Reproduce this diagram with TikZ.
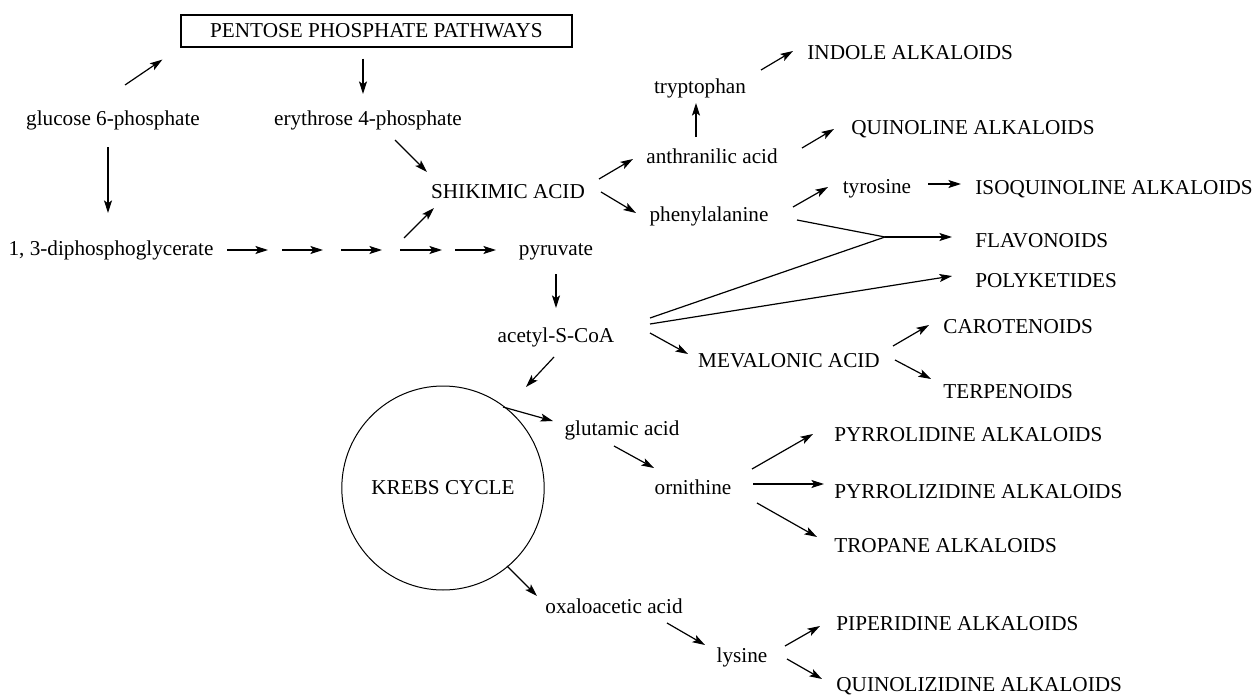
\documentclass[tikz,border=0pt]{standalone}
\usepackage{fontspec}
\setmainfont{Liberation Serif}
\usetikzlibrary{arrows.meta,shapes.geometric}

\begin{document}
\begin{tikzpicture}[x=0.5pt,y=-0.5pt,
    font=\fontsize{10.6}{12.7}\selectfont,
    every node/.style={inner sep=0pt},
    lbl/.style={anchor=mid},
    prod/.style={anchor=mid west},
    arr/.style={-{Stealth[length=6.3pt,width=4pt,inset=1.4pt]},line width=0.6pt}]
  \useasboundingbox (0,0) rectangle (1255,696);

  % sources
  \node[draw,line width=0.6pt,minimum width=195.5pt,minimum height=16pt] (ppp) at (376.5,31) {PENTOSE PHOSPHATE PATHWAYS};
  \node[lbl] (glc) at (113,121) {glucose 6-phosphate};
  \node[lbl] (ery) at (368,121) {erythrose 4-phosphate};
  \node[lbl] (dpg) at (111,251) {1, 3-diphosphoglycerate};
  \node[lbl] (shk) at (508,194) {SHIKIMIC ACID};
  \node[lbl] (pyr) at (556,251) {pyruvate};
  \node[lbl] (acc) at (556,338) {acetyl-S-CoA};
  \node[ellipse,draw,line width=0.5pt,minimum width=98pt,minimum height=102pt] (krebs) at (443,488) {KREBS CYCLE};

  % intermediates
  \node[lbl] (ant) at (712,159) {anthranilic acid};
  \node[lbl] (phe) at (709,217) {phenylalanine};
  \node[lbl] (trp) at (700,89) {tryptophan};
  \node[lbl] (tyr) at (877,189) {tyrosine};
  \node[lbl] (mev) at (789,363) {MEVALONIC ACID};
  \node[lbl] (glu) at (622,431) {glutamic acid};
  \node[lbl] (orn) at (693,490) {ornithine};
  \node[lbl] (oxa) at (614,609) {oxaloacetic acid};
  \node[lbl] (lys) at (742,658) {lysine};
  \coordinate (jn) at (885,237);

  % end products
  \node[prod] (ind) at (807,55) {INDOLE ALKALOIDS};
  \node[prod] (qui) at (851,130) {QUINOLINE ALKALOIDS};
  \node[prod] (iso) at (975,190) {ISOQUINOLINE ALKALOIDS};
  \node[prod] (fla) at (975,243) {FLAVONOIDS};
  \node[prod] (pol) at (975,283) {POLYKETIDES};
  \node[prod] (car) at (943,329) {CAROTENOIDS};
  \node[prod] (ter) at (943,394) {TERPENOIDS};
  \node[prod] (pyrd) at (834,437) {PYRROLIDINE ALKALOIDS};
  \node[prod] (pyrz) at (834,494) {PYRROLIZIDINE ALKALOIDS};
  \node[prod] (tro) at (834,548) {TROPANE ALKALOIDS};
  \node[prod] (pip) at (836,626) {PIPERIDINE ALKALOIDS};
  \node[prod] (quz) at (836,687) {QUINOLIZIDINE ALKALOIDS};

  % arrows
  \draw[arr] ([shift={(12,-36)}]glc.mid) -- ([shift={(-18,12)}]ppp.south west);
  \draw[arr] ([shift={(-13.5,11)}]ppp.south) -- ([shift={(-5,-27)}]ery.mid);
  \draw[arr] ([shift={(-5,26)}]glc.mid) -- ([shift={(-3,-38)}]dpg.mid);
  \foreach \a/\b in {116/157,171/212,230/271,289/331,344/385}
    \draw[arr] ([shift={(\a,-1)}]dpg.mid) -- ([shift={(\b,-1)}]dpg.mid);
  \draw[arr] ([shift={(-104,44)}]shk.mid) -- ([shift={(-74,14)}]shk.mid);
  \draw[arr] ([shift={(27,19)}]ery.mid) -- ([shift={(-81,-22)}]shk.mid);
  \draw[arr] ([shift={(91,-15)}]shk.mid) -- ([shift={(-79,0)}]ant.mid);
  \draw[arr] ([shift={(93,-2)}]shk.mid) -- ([shift={(-73,-4)}]phe.mid);
  \draw[arr] ([shift={(0,23)}]pyr.mid) -- ([shift={(0,-30)}]acc.mid);
  \draw[arr] ([shift={(-16,-22)}]ant.mid) -- ([shift={(-4,14)}]trp.mid);
  \draw[arr] ([shift={(61,-19)}]trp.mid) -- ([shift={(-14,-4)}]ind.mid west);
  \draw[arr] ([shift={(90,-11)}]ant.mid) -- ([shift={(-17,-1)}]qui.mid west);
  \draw[arr] ([shift={(84,-10)}]phe.mid) -- ([shift={(-49,-2)}]tyr.mid);
  \draw[arr] ([shift={(51,-5)}]tyr.mid) -- ([shift={(-14,-6)}]iso.mid west);
  \draw[line width=0.6pt] ([shift={(88,3)}]phe.mid) -- (jn);
  \draw[line width=0.6pt] ([shift={(94,-20)}]acc.mid) -- (jn);
  \draw[arr] (jn) -- ([shift={(-23,-6)}]fla.mid west);
  \draw[arr] ([shift={(94,-14)}]acc.mid) -- ([shift={(-23,-7)}]pol.mid west);
  \draw[arr] ([shift={(94,-5)}]acc.mid) -- ([shift={(-101,-9)}]mev.mid);
  \draw[arr] ([shift={(104,-17)}]mev.mid) -- ([shift={(-14,-4)}]car.mid west);
  \draw[arr] ([shift={(106,-3)}]mev.mid) -- ([shift={(-12,-15)}]ter.mid west);
  \draw[arr] ([shift={(-2,19)}]acc.mid) -- ([shift={(83,-101)}]krebs.center);
  \draw[arr] ([shift={(60,-81)}]krebs.center) -- ([shift={(-69,-10)}]glu.mid);
  \draw[arr] ([shift={(-8,15)}]glu.mid) -- ([shift={(-39,-22)}]orn.mid);
  \draw[arr] ([shift={(59,-21)}]orn.mid) -- ([shift={(-21,-3)}]pyrd.mid west);
  \draw[arr] ([shift={(60,-6)}]orn.mid) -- ([shift={(-10,-10)}]pyrz.mid west);
  \draw[arr] ([shift={(64,13)}]orn.mid) -- ([shift={(-17,-11)}]tro.mid west);
  \draw[arr] ([shift={(64,78)}]krebs.center) -- ([shift={(-77,-13)}]oxa.mid);
  \draw[arr] ([shift={(53,14)}]oxa.mid) -- ([shift={(-37,-13)}]lys.mid);
  \draw[arr] ([shift={(43,-12)}]lys.mid) -- ([shift={(-16,0)}]pip.mid west);
  \draw[arr] ([shift={(45,1)}]lys.mid) -- ([shift={(-14,-8)}]quz.mid west);
\end{tikzpicture}
\end{document}
